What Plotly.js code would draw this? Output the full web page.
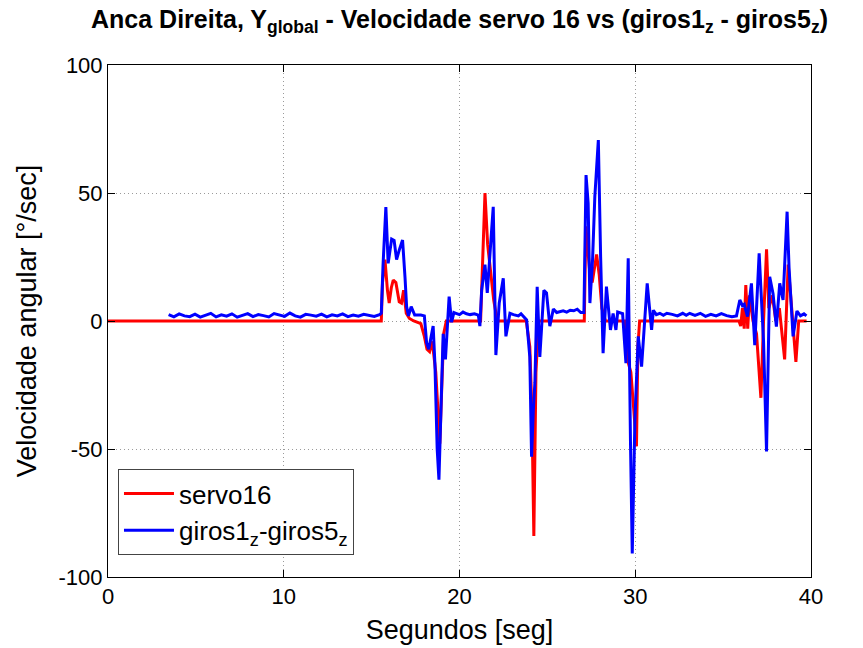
<!DOCTYPE html>
<html>
<head>
<meta charset="utf-8">
<script src="https://cdn.plot.ly/plotly-3.0.1.min.js"></script>
<style>html,body{margin:0;padding:0;background:#fff;}#chart{width:863px;height:648px;}</style>
</head>
<body>
<div id="chart"></div>
<script>
// servo16 angular velocity (time [s], value [deg/s])
const servoT = [0, 15.55, 15.62, 15.76, 15.9, 16.0, 16.12, 16.23, 16.38, 16.57, 16.7, 16.82, 16.97, 17.15, 17.4, 17.8, 18.0, 18.15, 18.3, 18.45, 18.65, 18.88, 18.97, 19.1, 19.25,
  21.2, 21.3, 21.45, 21.6, 21.8, 21.95, 22.15, 23.8, 24.0, 24.12, 24.23, 24.35, 24.5,
  27.1, 27.19, 27.4, 27.55, 27.8, 27.95, 28.1, 28.3, 29.4, 29.55, 29.75, 29.92, 30.07, 30.15, 30.25,
  35.9, 36.0, 36.1, 36.2, 36.29, 36.4, 36.5, 36.7, 36.9, 37.15, 37.3, 37.47, 37.6, 37.8, 38.0, 38.2, 38.5, 38.7, 38.9, 39.14, 39.3, 39.75];
const servoV = [0, 0, 15, 24, 12, 7, 13, 16, 15, 7.5, 7, 12, 3, 1, 0, -1, -6, -11, -12, -8, -20, -48, -30, -5, 0,
  0, 20, 50, 30, 17, 8, 0, 0, -10, -35, -84, -20, 0,
  0, 37, 20, 15, 26, 18, 5, 0, 0, -15, -20, -35, -49, -10, 0,
  0, -2, 5, -3, 14, -3, 10, 0, -5, -30, 0, 28, 5, 10, 0, 5, -15, 22, 5, -16, 0, 0];

// giros1_z - giros5_z samples [time, value]
const gyroSamples = [
  [3.45,2.5],[3.75,1.6],[4.05,2.8],[4.35,2.0],[4.65,1.7],[4.95,2.7],[5.25,1.5],[5.55,2.3],[5.85,3.0],[6.15,1.6],
  [6.45,2.4],[6.75,1.9],[7.05,2.8],[7.35,1.5],[7.65,2.3],[7.95,2.9],[8.25,1.7],[8.55,2.5],[8.85,2.1],[9.15,1.6],
  [9.45,2.9],[9.75,2.2],[10.05,1.8],[10.35,3.1],[10.65,2.0],[10.95,1.5],[11.25,2.6],[11.55,2.3],[11.85,1.9],[12.15,2.7],
  [12.45,1.6],[12.75,2.4],[13.05,2.0],[13.35,2.8],[13.65,1.7],[13.95,2.3],[14.25,1.9],[14.55,2.6],[14.85,2.2],[15.15,1.8],[15.45,2.5],
  [15.55,3],[15.65,22],[15.81,44.5],[15.94,22.5],[16.14,32],[16.28,31.5],[16.42,24],[16.57,27.7],[16.76,31.6],[16.9,17],
  [16.99,5.6],[17.1,2],[17.25,5.6],[17.45,2.3],[17.8,2.3],[18.0,2],[18.13,-8.6],[18.25,-11],[18.4,-6],[18.5,-2],
  [18.6,-16.5],[18.73,-50],[18.83,-62],[18.98,-24],[19.07,-5],[19.2,-15],[19.3,-3.5],[19.41,9.5],[19.55,-0.5],[19.68,3.3],
  [19.8,3],[20.0,2.5],[20.2,3.5],[20.4,2.8],[20.6,2.5],[20.85,2.8],[21.07,2.3],[21.16,-2],[21.26,12],[21.45,22],
  [21.58,11],[21.73,27.7],[21.92,44.6],[22.07,-13.3],[22.26,7],[22.49,16.7],[22.64,-6],[22.77,-1],[22.87,3],[23.07,2.5],
  [23.35,2],[23.5,2.8],[23.7,1],[23.82,0.4],[24.0,-14],[24.1,-53],[24.2,-35],[24.29,-24],[24.42,13.4],[24.57,-14],
  [24.8,12],[24.95,11],[25.14,-2],[25.34,4.7],[25.53,3.3],[25.7,3.6],[25.9,4],[26.1,3.5],[26.3,4.2],[26.5,4],
  [26.7,4.6],[26.9,3.3],[27.08,3.3],[27.2,57],[27.32,46],[27.42,7],[27.57,23.8],[27.7,48.6],[27.9,70.7],[28.03,25],
  [28.17,-12.6],[28.36,13.4],[28.59,-3.5],[28.74,2.9],[28.9,-3.5],[29.0,3.5],[29.28,2.9],[29.47,-16.5],[29.6,24.5],[29.73,-47.8],
  [29.83,-90.8],[29.98,-38.7],[30.17,-6],[30.36,-17.8],[30.68,14.7],[30.93,-3.5],[31.03,4.2],[31.2,2.5],[31.4,3],[31.6,2.2],
  [31.8,3],[32.1,2.6],[32.4,2],[32.7,3],[32.9,2.2],[33.1,3],[33.4,2.2],[33.7,3.0],[34.0,1.8],[34.3,2.6],
  [34.6,2.0],[34.9,2.9],[35.2,2.1],[35.5,1.7],[35.76,2],[35.95,8.2],[36.1,6],[36.2,6.5],[36.39,1.7],[36.61,14.7],
  [36.8,-9.4],[37.05,26.4],[37.18,5.6],[37.3,-8],[37.47,-51],[37.57,-8],[37.65,17.3],[37.84,10.7],[38.03,-2.2],[38.22,14.7],
  [38.41,8.2],[38.64,42.7],[38.75,21],[38.98,-6],[39.2,3.9],[39.4,2],[39.6,2.8],[39.74,2]
];

const xTicks = [0, 10, 20, 30, 40];
const yTicks = [-100, -50, 0, 50, 100];
const yTickText = ['-100', '-50', '0', '50', '100'];

const FONT = 'Liberation Sans, Arial, Helvetica, sans-serif';

const traces = [
  {x: servoT, y: servoV, type: 'scatter', mode: 'lines', name: 'servo16',
   line: {color: '#ff0000', width: 3}},
  {x: gyroSamples.map(p => p[0]), y: gyroSamples.map(p => p[1]), type: 'scatter', mode: 'lines',
   name: 'giros1<sub>z</sub>-giros5<sub>z</sub>', line: {color: '#0000ff', width: 3}}
];

const axisCommon = {
  showline: true, linecolor: '#000', linewidth: 1, mirror: 'allticks',
  ticks: 'inside', ticklen: 7, tickcolor: '#000', tickwidth: 1,
  showgrid: true, gridcolor: '#9a9a9a', griddash: '1px,3px', gridwidth: 1,
  zeroline: false, tickfont: {family: FONT, size: 22, color: '#000'}
};

const layout = {
  width: 863, height: 648,
  paper_bgcolor: '#fff', plot_bgcolor: '#fff',
  margin: {l: 108, r: 52, t: 65, b: 71},
  font: {family: FONT, color: '#000'},
  title: {text: '<b>Anca Direita, Y<sub>global</sub> - Velocidade servo 16 vs (giros1<sub>z</sub> - giros5<sub>z</sub>)</b>',
          font: {family: FONT, size: 25, color: '#000'}, x: 0.5, xref: 'paper', xanchor: 'center',
          y: 0.97, yref: 'container', yanchor: 'middle'},
  xaxis: Object.assign({}, axisCommon, {range: [0, 40], tickmode: 'array', tickvals: xTicks,
          title: {text: 'Segundos [seg]', font: {family: FONT, size: 27, color: '#000'}, standoff: 11}}),
  yaxis: Object.assign({}, axisCommon, {range: [-100, 100], tickmode: 'array', tickvals: yTicks, ticktext: yTickText,
          title: {text: 'Velocidade angular [°/sec]', font: {family: FONT, size: 27, color: '#000'}, standoff: 14}}),
  showlegend: true,
  legend: {x: 0.0142, y: 0.043, xanchor: 'left', yanchor: 'bottom', bgcolor: '#fff', itemwidth: 50,
           bordercolor: '#444', borderwidth: 1, font: {family: FONT, size: 26, color: '#000'}}
};

Plotly.newPlot('chart', traces, layout, {displayModeBar: false, staticPlot: true});
</script>
</body>
</html>
